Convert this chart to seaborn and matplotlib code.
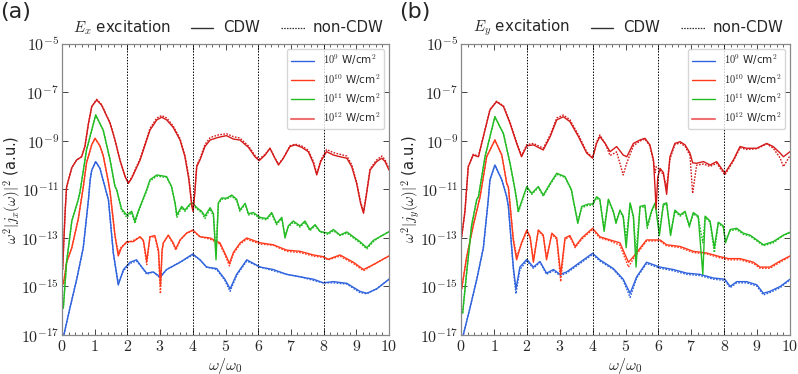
import numpy as np
import pandas as pd
import matplotlib
matplotlib.use('Agg')
import matplotlib.pyplot as plt
from matplotlib.lines import Line2D
from matplotlib.ticker import FixedLocator, FixedFormatter, MultipleLocator
import seaborn as sns

# --- data: x = omega/omega0, values are log10 of w^2|j(w)|^2 ---
intensities = ['9', '10', '11', '12']
colors = {'9': '#2f62dd', '10': '#ff3a1c', '11': '#22bb22', '12': '#d41a1a'}

# panel (a), E_x excitation
ax_b9_x = [0.04, 0.24, 0.45, 0.65, 0.81, 0.86, 0.91, 1.03, 1.16, 1.31, 1.42, 1.57, 1.72, 1.88, 2.08, 2.28, 2.44, 2.59,
           2.79, 3.00, 3.20, 3.61, 4.00, 4.22, 4.42, 4.73, 4.98, 5.14, 5.34, 5.65, 6.06, 6.46, 6.87, 7.28, 7.69, 7.99,
           8.30, 8.71, 9.11, 9.32, 9.62, 10.0]
ax_b9_cdw = [-17.1, -15.9, -14.7, -13.4, -11.4, -10.6, -10.2, -9.85, -10.13, -10.88, -11.43, -13.63, -14.94, -14.3,
             -14.0, -13.9, -14.2, -14.45, -14.4, -14.6, -14.3, -14.0, -13.66, -13.9, -14.2, -14.26, -14.7, -15.1,
             -14.5, -13.9, -14.2, -14.3, -14.5, -14.6, -14.7, -14.85, -14.8, -14.87, -15.2, -15.28, -15.1, -14.7]
ax_b9_non = [-17.1, -15.9, -14.7, -13.4, -11.4, -10.6, -10.2, -9.85, -10.13, -10.88, -11.43, -13.63, -14.85, -14.35,
             -14.05, -13.95, -14.2, -14.5, -14.4, -14.65, -14.3, -14.0, -13.7, -13.9, -14.2, -14.3, -14.75, -15.2,
             -14.55, -13.95, -14.2, -14.35, -14.5, -14.6, -14.75, -14.85, -14.85, -14.9, -15.25, -15.3, -15.1, -14.7]

ax_r10_x = [0.04, 0.09, 0.14, 0.30, 0.50, 0.65, 0.75, 0.91, 1.01, 1.16, 1.26, 1.42, 1.47, 1.62, 1.72, 1.82, 1.98,
            2.18, 2.39, 2.49, 2.59, 2.69, 2.84, 2.95, 3.01, 3.06, 3.10, 3.25, 3.40, 3.48, 3.61, 3.81, 4.00, 4.22, 4.53,
            4.83, 5.03, 5.12, 5.24, 5.45, 5.65, 6.06, 6.46, 6.87, 7.28, 7.69, 7.99, 8.14, 8.50, 8.91, 9.22, 9.52, 10.0]
ax_r10_cdw = [-14.9, -14.5, -14.0, -13.4, -12.2, -10.9, -9.9, -9.15, -8.89, -9.2, -9.6, -10.7, -11.1, -12.9, -13.74,
              -13.4, -13.15, -13.15, -12.95, -13.1, -13.95, -12.95, -12.9, -13.5, -15.0, -13.5, -13.2, -12.88, -13.2,
              -13.45, -13.08, -12.8, -12.67, -12.95, -13.0, -13.2, -13.77, -14.05, -13.6, -13.2, -13.0, -13.2, -13.28,
              -13.5, -13.55, -13.7, -13.77, -13.88, -13.7, -14.0, -14.3, -14.1, -13.74]
ax_r10_non = [-14.9, -14.5, -14.0, -13.4, -12.2, -10.9, -9.9, -9.15, -8.89, -9.2, -9.6, -10.7, -11.1, -12.9, -13.6,
              -13.35, -13.2, -13.1, -12.95, -13.15, -14.1, -12.95, -12.95, -13.6, -15.3, -13.55, -13.2, -12.9, -13.25,
              -13.5, -13.1, -12.8, -12.7, -12.95, -13.05, -13.25, -13.85, -14.15, -13.65, -13.25, -13.05, -13.25,
              -13.3, -13.55, -13.6, -13.75, -13.8, -13.9, -13.75, -14.05, -14.35, -14.1, -13.74]

ax_g11_x = [0.04, 0.14, 0.30, 0.50, 0.55, 0.75, 1.03, 1.26, 1.47, 1.62, 1.67, 1.82, 1.98, 2.13, 2.23, 2.33, 2.49,
            2.59, 2.69, 2.90, 3.20, 3.35, 3.46, 3.51, 3.66, 3.76, 3.91, 4.00, 4.12, 4.27, 4.37, 4.53, 4.63, 4.71, 4.78,
            4.88, 5.03, 5.19, 5.34, 5.44, 5.60, 5.70, 5.85, 6.06, 6.26, 6.41, 6.56, 6.72, 6.82, 6.92, 7.07, 7.28, 7.43,
            7.58, 7.74, 7.89, 8.14, 8.30, 8.50, 8.71, 8.91, 9.11, 9.32, 9.52, 9.72, 10.0]
ax_g11_cdw = [-15.9, -14.0, -12.3, -11.4, -11.1, -9.37, -7.93, -8.55, -9.78, -10.88, -11.0, -11.8, -12.05, -11.9,
              -12.3, -11.9, -11.35, -11.0, -10.6, -10.4, -10.47, -10.88, -11.57, -12.05, -11.7, -11.85, -11.6,
              -11.55, -11.75, -11.9, -12.1, -11.75, -12.0, -13.9, -11.55, -11.35, -11.36, -11.23, -11.4, -11.85,
              -11.57, -12.0, -11.95, -12.15, -12.2, -11.95, -12.4, -12.15, -13.0, -12.5, -12.3, -12.5, -12.3, -12.65,
              -12.45, -12.73, -12.8, -12.65, -12.88, -12.75, -12.95, -13.15, -13.4, -13.1, -12.95, -12.74]
ax_g11_non = [-15.9, -14.0, -12.3, -11.4, -11.1, -9.37, -7.93, -8.55, -9.78, -10.88, -11.0, -11.85, -12.15, -11.95,
              -12.4, -11.95, -11.4, -11.05, -10.65, -10.45, -10.5, -10.9, -11.6, -12.15, -11.75, -11.9, -11.65,
              -11.6, -11.8, -11.95, -12.2, -11.8, -12.1, -13.6, -11.6, -11.4, -11.4, -11.28, -11.45, -11.9, -11.6,
              -12.05, -12.0, -12.2, -12.25, -12.0, -12.45, -12.2, -12.9, -12.55, -12.35, -12.55, -12.35, -12.7, -12.5,
              -12.75, -12.85, -12.7, -12.9, -12.8, -13.0, -13.2, -13.45, -13.15, -12.95, -12.74]

ax_r12_x = [0.02, 0.06, 0.10, 0.14, 0.30, 0.45, 0.60, 0.70, 0.81, 0.91, 1.06, 1.21, 1.47, 1.62, 1.77, 1.93, 2.03,
            2.13, 2.39, 2.69, 2.90, 3.05, 3.20, 3.40, 3.61, 3.76, 3.88, 3.97, 4.01, 4.06, 4.12, 4.22, 4.37, 4.53, 4.78,
            5.03, 5.24, 5.44, 5.70, 5.90, 6.03, 6.21, 6.36, 6.51, 6.62, 6.77, 6.97, 7.13, 7.33, 7.53, 7.69, 7.79, 7.91,
            8.09, 8.30, 8.50, 8.71, 8.86, 9.01, 9.13, 9.22, 9.30, 9.42, 9.62, 9.78, 9.88, 10.0]
ax_r12_cdw = [-14.3, -13.0, -11.8, -10.9, -10.1, -9.78, -9.65, -9.23, -8.27, -7.58, -7.31, -7.52, -8.27, -8.96,
              -9.78, -10.47, -10.75, -10.54, -9.78, -8.55, -8.13, -8.02, -8.13, -8.44, -8.96, -9.65, -10.6, -11.7,
              -11.91, -11.16, -10.06, -9.78, -9.23, -8.96, -8.85, -8.78, -8.92, -8.96, -9.26, -9.65, -9.81, -9.58,
              -9.3, -9.71, -9.99, -9.71, -9.23, -9.16, -9.26, -9.44, -9.92, -10.4, -9.85, -9.44, -9.58, -9.65, -9.71,
              -10.06, -10.75, -11.57, -11.98, -11.3, -10.2, -9.85, -9.71, -9.85, -10.2]
ax_r12_non = [-14.3, -13.0, -11.8, -10.9, -10.1, -9.78, -9.65, -9.23, -8.27, -7.58, -7.28, -7.5, -8.25, -8.95,
              -9.78, -10.45, -10.72, -10.5, -9.72, -8.48, -8.05, -7.95, -8.05, -8.38, -8.9, -9.6, -10.5, -11.6,
              -11.8, -11.1, -10.0, -9.72, -9.15, -8.86, -8.75, -8.7, -8.82, -8.88, -9.2, -9.6, -9.75, -9.55, -9.3,
              -9.7, -9.95, -9.7, -9.2, -9.13, -9.2, -9.38, -9.85, -10.35, -9.8, -9.35, -9.48, -9.55, -9.62, -9.98,
              -10.7, -11.5, -11.9, -11.25, -10.15, -9.78, -9.62, -9.78, -10.15]

# panel (b), E_y excitation
by_b9_x = [0.05, 0.27, 0.48, 0.68, 0.83, 0.88, 1.03, 1.24, 1.39, 1.44, 1.59, 1.67, 1.79, 2.00, 2.20, 2.40, 2.60,
           2.81, 3.01, 3.21, 3.62, 4.00, 4.22, 4.63, 4.93, 5.14, 5.34, 5.64, 6.05, 6.45, 6.86, 7.26, 7.67, 8.02, 8.18,
           8.38, 8.68, 8.99, 9.19, 9.39, 9.70, 10.0]
by_b9_cdw = [-17.1, -15.9, -14.7, -13.4, -11.4, -10.6, -9.99, -10.6, -11.3, -11.7, -14.2, -15.1, -14.2, -13.88,
             -14.2, -13.97, -14.45, -14.3, -14.5, -14.4, -14.0, -13.63, -13.9, -14.26, -14.7, -15.28, -14.6, -14.0,
             -14.2, -14.3, -14.45, -14.5, -14.65, -14.7, -15.0, -14.8, -14.8, -14.93, -15.28, -15.2, -15.0, -14.7]
by_b9_non = [-17.1, -15.9, -14.7, -13.4, -11.4, -10.6, -9.99, -10.6, -11.3, -11.7, -14.3, -15.3, -14.3, -13.95,
             -14.25, -14.0, -14.5, -14.35, -14.55, -14.45, -14.05, -13.68, -13.95, -14.3, -14.75, -15.45, -14.65,
             -14.05, -14.25, -14.35, -14.5, -14.55, -14.7, -14.75, -15.05, -14.85, -14.85, -14.98, -15.35, -15.25,
             -15.05, -14.72]

by_r10_x = [0.02, 0.17, 0.37, 0.58, 0.78, 1.03, 1.24, 1.39, 1.44, 1.59, 1.69, 1.84, 2.00, 2.10, 2.20, 2.35, 2.50,
            2.60, 2.76, 2.91, 3.03, 3.16, 3.31, 3.47, 3.67, 4.00, 4.22, 4.53, 4.83, 5.09, 5.24, 5.64, 6.05, 6.25, 6.66,
            7.06, 7.47, 7.87, 8.13, 8.48, 8.89, 9.09, 9.39, 9.70, 10.0]
by_r10_cdw = [-15.1, -13.8, -12.5, -11.3, -9.65, -8.96, -9.58, -10.75, -10.9, -13.1, -13.9, -13.2, -12.67, -12.95,
              -14.0, -12.67, -12.88, -13.9, -12.8, -13.0, -14.5, -13.0, -12.9, -13.35, -13.0, -12.6, -12.95, -13.08,
              -13.2, -14.0, -13.77, -13.08, -13.08, -13.28, -13.35, -13.55, -13.62, -13.77, -13.85, -13.85, -14.0,
              -14.2, -14.2, -13.95, -13.74]
by_r10_non = [-15.1, -13.8, -12.5, -11.3, -9.65, -8.96, -9.58, -10.75, -10.9, -13.0, -13.75, -13.25, -12.72, -13.0,
              -13.9, -12.7, -12.92, -13.8, -12.85, -13.05, -14.8, -13.05, -12.95, -13.4, -13.05, -12.65, -13.0,
              -13.12, -13.3, -14.2, -13.85, -13.12, -13.12, -13.32, -13.4, -13.6, -13.66, -13.82, -13.9, -13.9,
              -14.05, -14.25, -14.25, -14.0, -13.76]

by_g11_x = [0.05, 0.17, 0.32, 0.48, 0.53, 0.73, 1.03, 1.29, 1.49, 1.64, 1.69, 1.74, 1.89, 2.00, 2.15, 2.35, 2.50,
            2.71, 2.91, 3.16, 3.36, 3.41, 3.55, 3.67, 3.87, 4.00, 4.12, 4.22, 4.35, 4.48, 4.63, 4.71, 4.83, 4.93, 5.02,
            5.14, 5.24, 5.32, 5.44, 5.59, 5.66, 5.80, 5.90, 6.03, 6.15, 6.25, 6.37, 6.50, 6.66, 6.81, 6.94, 7.06, 7.21,
            7.35, 7.42, 7.57, 7.70, 7.82, 7.97, 8.04, 8.18, 8.38, 8.58, 8.78, 8.99, 9.19, 9.49, 9.80, 10.0]
by_g11_cdw = [-16.1, -14.45, -12.5, -11.4, -11.3, -9.65, -8.0, -8.7, -9.92, -11.0, -11.4, -11.9, -11.3, -10.88,
              -11.16, -10.88, -11.23, -10.75, -10.33, -10.47, -11.02, -11.4, -12.4, -11.7, -11.6, -11.6, -11.3, -11.4,
              -12.73, -11.4, -11.9, -12.4, -11.85, -12.1, -13.4, -11.55, -12.1, -14.2, -11.7, -11.65, -12.5, -11.85,
              -11.55, -12.9, -11.6, -11.55, -12.9, -11.85, -12.05, -11.9, -12.5, -11.95, -12.1, -14.5, -12.1, -12.3,
              -13.4, -12.35, -12.5, -13.2, -12.65, -12.6, -12.8, -12.88, -13.08, -13.28, -13.15, -12.88, -12.76]
by_g11_non = [-16.1, -14.45, -12.5, -11.4, -11.3, -9.65, -8.0, -8.7, -9.92, -11.0, -11.45, -11.95, -11.35, -10.92,
              -11.2, -10.92, -11.28, -10.8, -10.38, -10.5, -11.05, -11.45, -12.3, -11.75, -11.65, -11.65, -11.35,
              -11.45, -12.6, -11.45, -11.95, -12.3, -11.9, -12.15, -13.0, -11.6, -12.15, -13.6, -11.75, -11.7,
              -12.6, -11.9, -11.6, -12.7, -11.65, -11.6, -12.8, -11.9, -12.1, -11.95, -12.55, -12.0, -12.15, -13.2,
              -12.15, -12.35, -13.6, -12.4, -12.55, -13.1, -12.7, -12.65, -12.85, -12.92, -13.12, -13.32, -13.2,
              -12.9, -12.78]

by_r12_x = [0.02, 0.12, 0.22, 0.37, 0.53, 0.68, 0.88, 1.08, 1.29, 1.49, 1.69, 1.84, 2.00, 2.20, 2.50, 2.71, 2.91,
            3.11, 3.31, 3.57, 3.82, 4.00, 4.12, 4.22, 4.38, 4.53, 4.73, 4.93, 5.04, 5.24, 5.44, 5.59, 5.74, 5.85, 5.90,
            5.93, 5.98, 6.05, 6.15, 6.25, 6.35, 6.50, 6.66, 6.81, 6.96, 7.04, 7.16, 7.37, 7.57, 7.77, 8.02, 8.28,
            8.48, 8.68, 8.99, 9.29, 9.49, 9.70, 9.80, 10.0]
by_r12_cdw = [-12.95, -11.9, -10.06, -9.58, -9.65, -8.82, -7.72, -7.38, -7.58, -8.27, -9.1, -9.65, -9.2, -9.16,
              -9.37, -8.82, -8.13, -8.0, -8.2, -8.82, -9.5, -9.71, -9.1, -8.82, -9.1, -9.44, -9.23, -9.58, -9.65,
              -9.1, -8.96, -8.89, -9.16, -9.78, -11.0, -11.8, -10.5, -10.13, -10.3, -11.2, -9.65, -9.1, -9.03, -9.16,
              -9.5, -9.9, -9.92, -9.85, -9.99, -9.85, -10.33, -9.78, -9.23, -9.3, -9.3, -9.1, -9.23, -9.5, -9.65,
              -9.44]
by_r12_non = [-12.95, -11.9, -10.06, -9.55, -9.62, -8.8, -7.7, -7.36, -7.55, -8.22, -9.05, -9.6, -9.15, -9.1,
              -9.3, -8.75, -8.05, -7.93, -8.12, -8.75, -9.45, -9.68, -9.05, -8.75, -9.1, -9.6, -9.45, -10.4, -9.9,
              -9.2, -9.0, -8.92, -9.2, -9.85, -10.3, -10.06, -10.1, -10.2, -10.4, -10.9, -9.75, -9.15, -9.08, -9.22,
              -9.6, -11.16, -10.0, -9.95, -10.05, -9.92, -10.4, -9.82, -9.28, -9.35, -9.32, -9.12, -9.3, -9.7,
              -10.06, -9.6]

panels = {
    'a': {'9': (ax_b9_x, ax_b9_cdw, ax_b9_non), '10': (ax_r10_x, ax_r10_cdw, ax_r10_non),
          '11': (ax_g11_x, ax_g11_cdw, ax_g11_non), '12': (ax_r12_x, ax_r12_cdw, ax_r12_non)},
    'b': {'9': (by_b9_x, by_b9_cdw, by_b9_non), '10': (by_r10_x, by_r10_cdw, by_r10_non),
          '11': (by_g11_x, by_g11_cdw, by_g11_non), '12': (by_r12_x, by_r12_cdw, by_r12_non)},
}
comp = {'a': 'x', 'b': 'y'}

sns.set_style('ticks')
plt.rcParams['font.family'] = ['DejaVu Sans']
plt.rcParams['mathtext.fontset'] = 'cm'

fig = plt.figure(figsize=(7.98, 3.74), dpi=100)
axes = {'a': fig.add_axes([0.0777, 0.1043, 0.4098, 0.7781]),
        'b': fig.add_axes([0.5777, 0.1043, 0.4123, 0.7781])}

ytick_exp = [-17, -15, -13, -11, -9, -7, -5]

for key, ax in axes.items():
    handles = []
    for inten in intensities:
        xs, cdw, non = panels[key][inten]
        df = pd.DataFrame({'x': xs, 'cdw': np.power(10.0, cdw), 'non': np.power(10.0, non)})
        sns.lineplot(data=df, x='x', y='non', ax=ax, color=colors[inten], lw=1.0,
                     linestyle=(0, (1.2, 1.0)), sort=False, estimator=None)
        sns.lineplot(data=df, x='x', y='cdw', ax=ax, color=colors[inten], lw=1.0,
                     sort=False, estimator=None)
        hcol = '#ee7070' if inten == '12' else colors[inten]
        handles.append(Line2D([], [], color=hcol, lw=1.5 if inten == '12' else 1.0,
                              label=r'$10^{%s}$ W/cm$^2$' % inten))
    for xv in [2, 4, 6, 8]:
        ax.axvline(xv, color='k', lw=0.7, ls=(0, (1.5, 1.5)))
    ax.set_yscale('log')
    ax.set_xlim(0, 10)
    ax.set_ylim(1e-17, 1e-5)
    ax.yaxis.set_major_locator(FixedLocator([10.0 ** e for e in ytick_exp]))
    ax.yaxis.set_major_formatter(FixedFormatter([r'$10^{%d}$' % e for e in ytick_exp]))
    ax.yaxis.set_minor_locator(FixedLocator([]))
    ax.set_xticks(range(11))
    ax.set_xticklabels([r'$%d$' % i for i in range(11)])
    ax.xaxis.set_minor_locator(MultipleLocator(0.2))
    ax.tick_params(which='both', direction='in', top=True, right=True, labelsize=11.5, pad=2)
    ax.tick_params(axis='x', which='major', pad=3)
    ax.tick_params(which='major', length=4, width=0.6)
    ax.tick_params(which='minor', length=2, width=0.5)
    for sp in ax.spines.values():
        sp.set_color('#888888')
        sp.set_linewidth(0.9)
    ax.set_xlabel(r'$\omega/\omega_0$', fontsize=11.5)
    ax.xaxis.set_label_coords(0.5, -0.072)
    ax.set_ylabel(r'$\omega^2|j_%s(\omega)|^2$ (a.u.)' % comp[key], fontsize=10.5)
    ax.yaxis.set_label_coords(-0.118, 0.5)
    ax.legend(handles=handles, loc='upper right', fontsize=7.5, frameon=True, handlelength=2.2,
              borderaxespad=0.45, labelspacing=0.45, fancybox=True, edgecolor='#cccccc')

# header above each panel
for dx, key in [(0.0, 'a'), (0.5013, 'b')]:
    y0 = 0.926
    fig.text(0.0911 + dx, y0, r'$E_%s$ excitation' % comp[key], fontsize=10.8, va='center', ha='left')
    fig.add_artist(Line2D([0.239 + dx, 0.267 + dx], [y0, y0], color='#333333', lw=1.0))
    fig.text(0.2794 + dx, y0, 'CDW', fontsize=10.8, va='center', ha='left')
    fig.add_artist(Line2D([0.352 + dx, 0.382 + dx], [y0, y0], color='#333333', lw=0.9, ls=(0, (1.2, 1.0))))
    fig.text(0.392 + dx, y0, 'non-CDW', fontsize=10.8, va='center', ha='left')

fig.text(0.0, 0.995, '(a)', fontsize=16, va='top', ha='left')
fig.text(0.5, 0.995, '(b)', fontsize=16, va='top', ha='left')

plt.savefig('out.png', dpi=100)
